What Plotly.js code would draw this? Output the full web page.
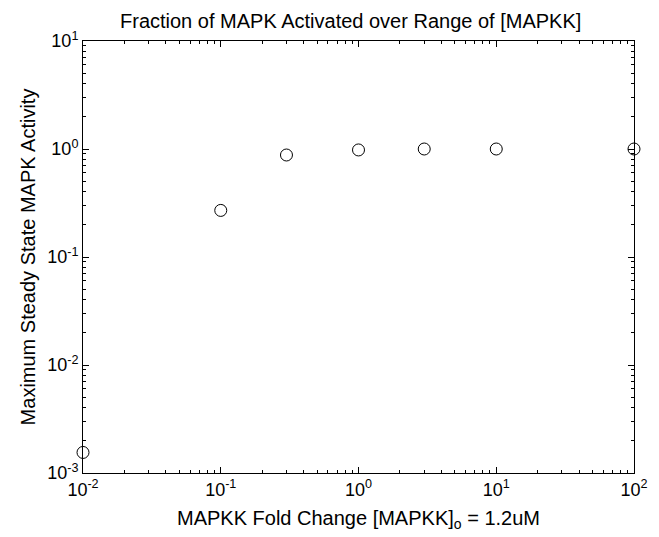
<!DOCTYPE html>
<html>
<head>
<meta charset="utf-8">
<script src="https://cdn.plot.ly/plotly-3.0.1.min.js"></script>
<style>html,body{margin:0;padding:0;background:#fff;}#chart{width:659px;height:537px;}</style>
</head>
<body>
<div id="chart"></div>
<script>
const foldChange = [0.01, 0.1, 0.3, 1, 3, 10, 100];
const maxActivity = [0.00155, 0.27, 0.88, 0.98, 1.0, 1.0, 1.0];
const xTickVals = [0.01, 0.1, 1, 10, 100];
const xTickText = ['10<sup>-2</sup>', '10<sup>-1</sup>', '10<sup>0</sup>', '10<sup>1</sup>', '10<sup>2</sup>'];
const yTickVals = [0.001, 0.01, 0.1, 1, 10];
const yTickText = ['10<sup>-3</sup>', '10<sup>-2</sup>', '10<sup>-1</sup>', '10<sup>0</sup>', '10<sup>1</sup>'];
const minorMultiples = [2, 3, 4, 5, 6, 7, 8, 9];

function minorTicks(majors) {
  const out = [];
  majors.slice(0, -1).forEach(function (d) { minorMultiples.forEach(function (m) { out.push(d * m); }); });
  return out;
}

const font = 'Liberation Sans, Arial, Helvetica, sans-serif';

const trace = {
  x: foldChange, y: maxActivity, type: 'scatter', mode: 'markers',
  marker: {symbol: 'circle-open', size: 12, color: '#000', line: {width: 1, color: '#000'}},
  cliponaxis: false, hoverinfo: 'none'
};

function axisCommon(majors) {
  return {
    type: 'log', showgrid: false, zeroline: false, showline: true, linecolor: '#000', linewidth: 1,
    mirror: 'ticks', ticks: 'inside', ticklen: 6, tickcolor: '#000', tickwidth: 1,
    tickfont: {family: font, size: 18, color: '#000'}, automargin: false,
    minor: {tickmode: 'array', tickvals: minorTicks(majors), ticks: 'inside', ticklen: 3, tickcolor: '#000', tickwidth: 1, showgrid: false}
  };
}

const layout = {
  width: 659, height: 537,
  margin: {l: 83, r: 25, t: 41, b: 64},
  paper_bgcolor: '#fff', plot_bgcolor: '#fff',
  showlegend: false,
  title: {text: 'Fraction of MAPK Activated over Range of [MAPKK]', font: {family: font, size: 20, color: '#000'},
          x: 120 / 659, xref: 'container', xanchor: 'left', y: 1 - 21 / 537, yref: 'container', yanchor: 'middle'},
  xaxis: Object.assign(axisCommon(xTickVals), {
    range: [-2, 2], tickvals: xTickVals, ticktext: xTickText,
    title: {text: 'MAPKK Fold Change [MAPKK]<sub>o</sub> = 1.2uM', font: {family: font, size: 20, color: '#000'}, standoff: 12}
  }),
  yaxis: Object.assign(axisCommon(yTickVals), {
    range: [-3, 1], tickvals: yTickVals, ticktext: yTickText,
    title: {text: 'Maximum Steady State MAPK Activity', font: {family: font, size: 20, color: '#000'}, standoff: 6}
  })
};

Plotly.newPlot('chart', [trace], layout, {displayModeBar: false, staticPlot: true});
</script>
</body>
</html>
